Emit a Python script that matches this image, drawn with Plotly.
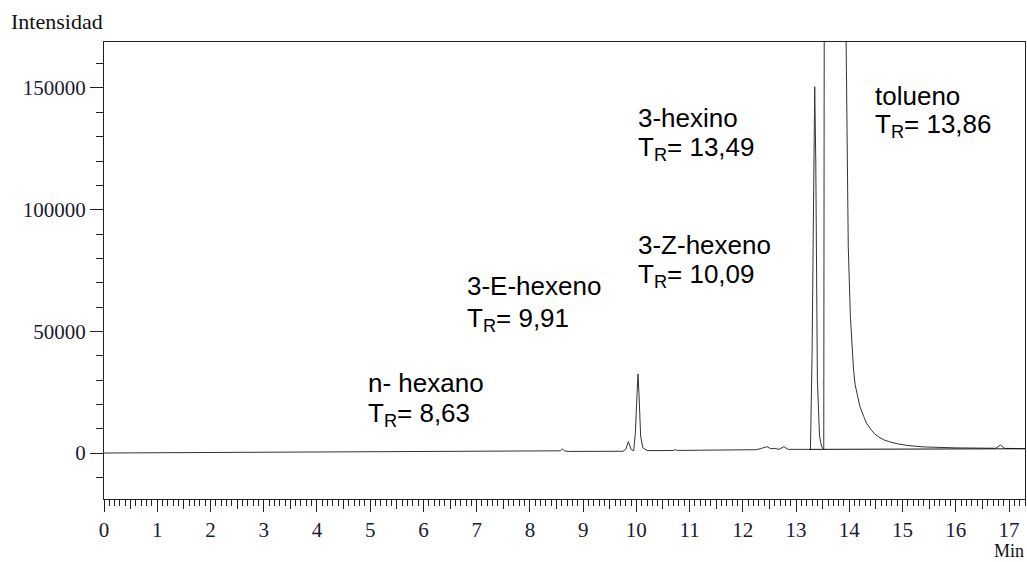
import plotly.graph_objects as go

# Chromatogram signal (time in min, intensity)
signal_t = [0.0, 1.0, 2.0, 3.0, 4.6, 6.0, 7.0, 8.0, 8.50, 8.57, 8.61, 8.65, 8.72,
            9.3, 9.75, 9.80, 9.85, 9.90, 9.95, 9.98, 10.01, 10.03, 10.05, 10.08, 10.12,
            10.2, 10.5, 10.70, 10.73, 10.77, 11.2, 12.0, 12.25, 12.35, 12.45, 12.52,
            12.60, 12.68, 12.77, 12.85, 13.20, 13.27, 13.30, 13.33, 13.35, 13.37, 13.40,
            13.44, 13.48, 13.52, 13.54, 13.70, 13.92, 13.94, 13.96, 13.98, 14.02, 14.05,
            14.08, 14.11, 14.15, 14.20, 14.27, 14.33, 14.40, 14.47, 14.55, 14.65, 14.77,
            14.90, 15.09, 15.20, 15.39, 16.0, 16.33, 16.47, 16.6, 16.75, 16.84, 16.92, 17.3]
signal_v = [0, 80, 150, 250, 400, 480, 520, 600, 640, 900, 1700, 900, 650,
            700, 720, 1500, 4700, 1500, 900, 8000, 28000, 32500, 24000, 7000, 2200,
            1000, 1000, 1050, 1400, 1050, 1150, 1300, 1350, 1900, 2600, 1800,
            1900, 1500, 2600, 1500, 1450, 1500, 40000, 130000, 150500, 120000, 30000,
            7000, 2500, 1500, 400000, 900000, 500000, 169000, 125000, 85000, 56000, 43000,
            34000, 28000, 23500, 19000, 15000, 12000, 9800, 8000, 6600, 5400, 4500,
            3800, 3100, 2800, 2500, 2100, 2000, 2200, 1900, 1950, 3300, 1900, 1800]

# Integration baseline under the toluene peak
baseline_t = [13.25, 17.3]
baseline_v = [1500, 1750]

# Peak labels
peak_names = ["n- hexano", "3-E-hexeno", "3-Z-hexeno", "3-hexino", "tolueno"]
peak_tr = ["8,63", "9,91", "10,09", "13,49", "13,86"]

x_major = list(range(0, 18))
x_half = [i + 0.5 for i in range(0, 17)]
y_major = [0, 50000, 100000, 150000]

# pixel helpers for layout placement
L, R, T, B = 104, 1025, 42, 499
def px(x):
    return (x - L) / (R - L)
def py(y):
    return (B - y) / (B - T)

fig = go.Figure()
fig.add_trace(go.Scatter(x=signal_t, y=signal_v, mode="lines",
                         line=dict(color="#333333", width=1), hoverinfo="skip"))
fig.add_trace(go.Scatter(x=baseline_t, y=baseline_v, mode="lines", xaxis="x2",
                         line=dict(color="#111111", width=1), hoverinfo="skip"))

tickfont = dict(family="Liberation Serif", size=21, color="#1a1a33")
axcol = "#222222"

fig.update_layout(
    width=1027, height=562,
    margin=dict(l=L, r=1027 - R, t=T, b=562 - B),
    plot_bgcolor="white", paper_bgcolor="white",
    showlegend=False,
    xaxis=dict(range=[0, 17.3], tickvals=x_major, ticks="outside", ticklen=12,
               tickcolor=axcol, showline=True, linecolor=axcol, linewidth=1,
               mirror=True, showgrid=False, zeroline=False, tickfont=tickfont,
               ticklabelstandoff=0,
               minor=dict(dtick=0.1, tick0=0, ticks="outside", ticklen=6,
                          tickcolor=axcol, showgrid=False)),
    xaxis2=dict(range=[0, 17.3], overlaying="x", anchor="y", side="bottom",
                tickvals=x_half, ticks="outside", ticklen=9, tickcolor=axcol,
                showticklabels=False, showgrid=False, zeroline=False, showline=False),
    yaxis=dict(range=[-18900, 168900], tickvals=y_major, tickformat="d",
               ticks="outside", ticklen=13, tickcolor=axcol, showline=True,
               linecolor=axcol, linewidth=1, mirror=True, showgrid=False,
               zeroline=False, tickfont=tickfont,
               minor=dict(dtick=10000, tick0=0, ticks="outside", ticklen=7,
                          tickcolor=axcol, showgrid=False)),
)

ann = []
ann.append(dict(text="Intensidad", xref="paper", yref="paper", x=px(9), y=py(22),
                xanchor="left", yanchor="middle", showarrow=False,
                font=dict(family="Liberation Serif", size=22, color="#111")))
ann.append(dict(text="Min", xref="paper", yref="paper", x=px(1025), y=py(562),
                xanchor="right", yanchor="bottom", showarrow=False, borderpad=0,
                font=dict(family="Liberation Serif", size=18, color="#111")))

# label placements (left px, name center px, TR center px)
label_pos = [(367, 383, 412), (466, 286, 317), (637, 245, 273), (637, 118, 146), (874, 96, 123)]
lf = dict(family="Liberation Sans", size=26, color="#000")
for name, tr, (lx, ny, ty) in zip(peak_names, peak_tr, label_pos):
    ann.append(dict(text=name, xref="paper", yref="paper", x=px(lx), y=py(ny),
                    xanchor="left", yanchor="middle", showarrow=False, borderpad=0, font=lf))
    ann.append(dict(text="T<sub>R</sub>= " + tr, xref="paper", yref="paper", x=px(lx), y=py(ty + 2),
                    xanchor="left", yanchor="middle", showarrow=False, borderpad=0, font=lf))
fig.update_layout(annotations=ann)

fig.write_html("out.html")
